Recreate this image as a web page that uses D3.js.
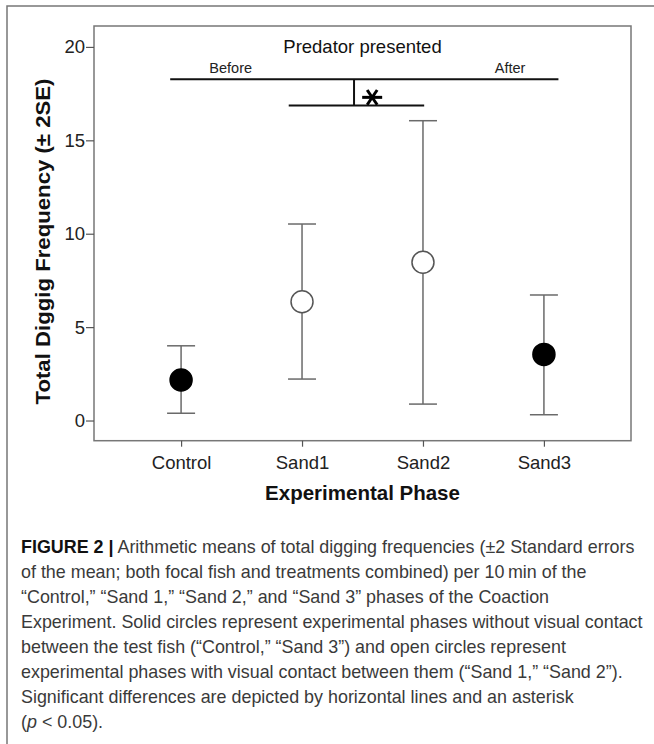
<!DOCTYPE html>
<html>
<head>
<meta charset="utf-8">
<script src="https://cdn.jsdelivr.net/npm/d3@7"></script>
<style>
  html, body { margin: 0; padding: 0; background: #fff; }
  svg { display: block; font-family: "Liberation Sans", Arial, Helvetica, sans-serif; }
</style>
</head>
<body>
<svg id="chart" width="654" height="744"></svg>
<script>
// ---- Data ----
const categories = ["Control", "Sand1", "Sand2", "Sand3"];
const means = [2.17, 6.36, 8.47, 3.54];
const upper = [4.0, 10.52, 16.05, 6.72];
const lower = [0.39, 2.22, 0.88, 0.31];
const filled = [true, false, false, true];
const yTicks = [0, 5, 10, 15, 20];

// significance annotation (x in category-index units, y in data units)
const sigTopLine = { x0: -0.09, x1: 3.12, y: 18.27 };
const sigLowLine = { x0: 0.89, x1: 2.01, y: 16.87 };
const sigJoinX = 1.43;
const starX = 1.58, starY = 17.3;
const topLabels = [{ text: "Before", x: 0.41 }, { text: "After", x: 2.72 }];
const titleText = "Predator presented";

const captionLines = [
  [["FIGURE 2 |", "bold"], [" Arithmetic means of total digging frequencies (±2 Standard errors", ""]],
  [["of the mean; both focal fish and treatments combined) per 10\u2009min of the", ""]],
  [["“Control,” “Sand 1,” “Sand 2,” and “Sand 3” phases of the Coaction", ""]],
  [["Experiment. Solid circles represent experimental phases without visual contact", ""]],
  [["between the test fish (“Control,” “Sand 3”) and open circles represent", ""]],
  [["experimental phases with visual contact between them (“Sand 1,” “Sand 2”).", ""]],
  [["Significant differences are depicted by horizontal lines and an asterisk", ""]],
  [["(", ""], ["p", "italic"], [" < 0.05).", ""]]
];

// ---- Layout ----
const svg = d3.select("#chart");
const plot = { left: 94, right: 631, top: 26, bottom: 440.7 };

const x = d3.scalePoint().domain(categories).range([plot.left, plot.right]).padding(0.72);
const xi = d3.scaleLinear().domain([0, categories.length - 1])
  .range([x(categories[0]), x(categories[categories.length - 1])]);
const y = d3.scaleLinear().domain([-1.08, 21.12]).range([plot.bottom, plot.top]);

// outer frame (extends past right/bottom edge)
svg.append("rect").attr("x", 7).attr("y", 6).attr("width", 700).attr("height", 800)
  .attr("fill", "none").attr("stroke", "#777").attr("stroke-width", 1.5);

// plot box
svg.append("rect")
  .attr("x", plot.left).attr("y", plot.top)
  .attr("width", plot.right - plot.left).attr("height", plot.bottom - plot.top)
  .attr("fill", "none").attr("stroke", "#777").attr("stroke-width", 1.5);

// y axis
const yAxis = svg.append("g").attr("transform", `translate(${plot.left},0)`)
  .call(d3.axisLeft(y).tickValues(yTicks).tickSize(8).tickPadding(1));
yAxis.select(".domain").remove();
yAxis.selectAll(".tick line").attr("stroke", "#555").attr("stroke-width", 1.2);
yAxis.selectAll(".tick text").attr("font-size", 18.5).attr("fill", "#222")
  .attr("font-family", "Liberation Sans, Arial, sans-serif");

// x axis
const xAxis = svg.append("g").attr("transform", `translate(0,${plot.bottom})`)
  .call(d3.axisBottom(x).tickSize(6).tickPadding(9));
xAxis.select(".domain").remove();
xAxis.selectAll(".tick line").attr("stroke", "#555").attr("stroke-width", 1.2);
xAxis.selectAll(".tick text").attr("font-size", 18.5).attr("fill", "#222")
  .attr("font-family", "Liberation Sans, Arial, sans-serif");

// axis titles
svg.append("text").attr("x", (plot.left + plot.right) / 2).attr("y", 500)
  .attr("text-anchor", "middle").attr("font-size", 20.5).attr("font-weight", "bold").attr("fill", "#111")
  .text("Experimental Phase");
svg.append("text").attr("transform", "translate(50,241.5) rotate(-90)")
  .attr("text-anchor", "middle").attr("font-size", 21).attr("font-weight", "bold").attr("fill", "#111")
  .attr("textLength", 326).attr("lengthAdjust", "spacingAndGlyphs")
  .text("Total Diggig Frequency (± 2SE)");

// error bars
const capHalf = 14;
const eb = svg.append("g").attr("stroke", "#6a6a6a").attr("stroke-width", 1.5).attr("fill", "none");
categories.forEach((c, i) => {
  eb.append("line").attr("x1", x(c)).attr("x2", x(c)).attr("y1", y(upper[i])).attr("y2", y(lower[i]));
  eb.append("line").attr("x1", x(c) - capHalf).attr("x2", x(c) + capHalf).attr("y1", y(upper[i])).attr("y2", y(upper[i]));
  eb.append("line").attr("x1", x(c) - capHalf).attr("x2", x(c) + capHalf).attr("y1", y(lower[i])).attr("y2", y(lower[i]));
});

// points
svg.append("g").selectAll("circle").data(categories).join("circle")
  .attr("cx", d => x(d)).attr("cy", (d, i) => y(means[i]))
  .attr("r", 11)
  .attr("fill", (d, i) => filled[i] ? "#000" : "#fff")
  .attr("stroke", (d, i) => filled[i] ? "#000" : "#555")
  .attr("stroke-width", 1.5);

// annotations
const ann = svg.append("g").attr("stroke", "#111").attr("stroke-width", 2);
ann.append("line").attr("x1", xi(sigTopLine.x0)).attr("x2", xi(sigTopLine.x1))
  .attr("y1", y(sigTopLine.y)).attr("y2", y(sigTopLine.y));
ann.append("line").attr("x1", xi(sigLowLine.x0)).attr("x2", xi(sigLowLine.x1))
  .attr("y1", y(sigLowLine.y)).attr("y2", y(sigLowLine.y));
ann.append("line").attr("x1", xi(sigJoinX)).attr("x2", xi(sigJoinX))
  .attr("y1", y(sigTopLine.y)).attr("y2", y(sigLowLine.y));

// asterisk
const sx = xi(starX), sy = y(starY), sr = 10;
const star = svg.append("g").attr("stroke", "#000").attr("stroke-width", 3).attr("stroke-linecap", "butt");
[0, 60, 120].forEach(a => {
  const r = a * Math.PI / 180;
  star.append("line")
    .attr("x1", sx - sr * Math.cos(r)).attr("y1", sy - sr * 0.85 * Math.sin(r))
    .attr("x2", sx + sr * Math.cos(r)).attr("y2", sy + sr * 0.85 * Math.sin(r));
});

svg.append("text").attr("x", xi(1.5)).attr("y", 52.5).attr("text-anchor", "middle")
  .attr("font-size", 18.5).attr("fill", "#111").text(titleText);
svg.selectAll(".toplab").data(topLabels).join("text").attr("class", "toplab")
  .attr("x", d => xi(d.x)).attr("y", 73).attr("text-anchor", "middle")
  .attr("font-size", 14.5).attr("fill", "#222").text(d => d.text);

// caption
const cap = svg.append("g").attr("font-family", "Liberation Sans, Arial, Helvetica, sans-serif")
  .attr("font-size", 17.9).attr("fill", "#3a3a3a");
captionLines.forEach((parts, i) => {
  const t = cap.append("text").attr("x", 21).attr("y", 553.3 + i * 25);
  parts.forEach(([s, style]) => {
    const ts = t.append("tspan").text(s);
    if (style === "bold") ts.attr("font-weight", "bold").attr("fill", "#111");
    if (style === "italic") ts.attr("font-style", "italic");
  });
});
</script>
</body>
</html>
